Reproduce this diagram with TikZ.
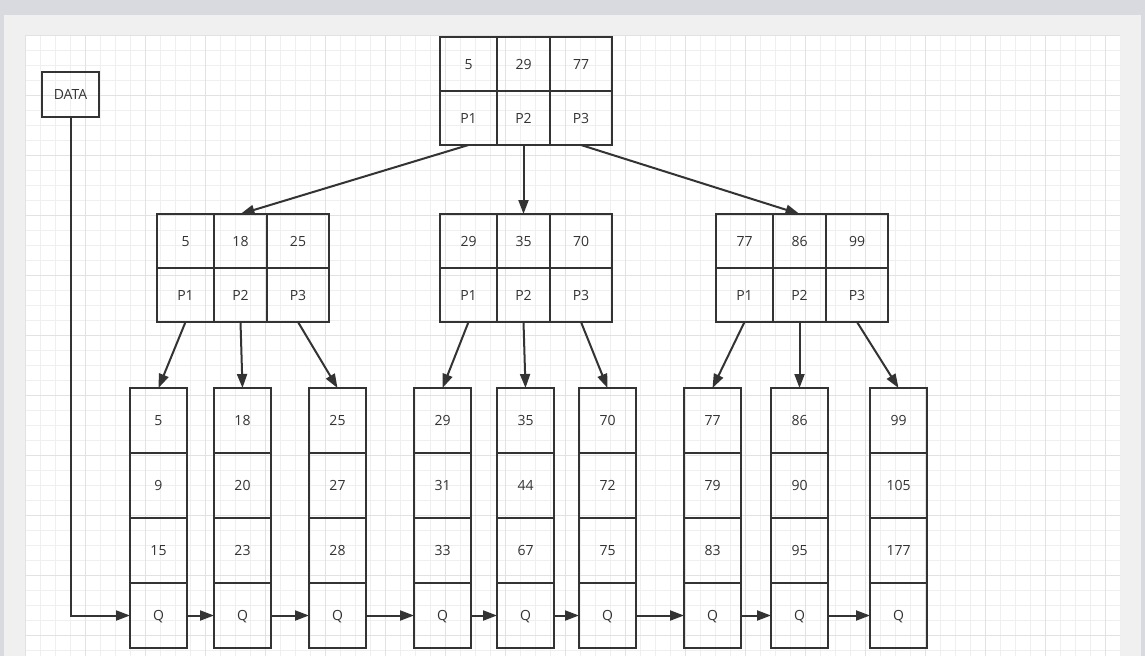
\documentclass[tikz,border=0pt]{standalone}
\usepackage{fontspec}
\setmainfont{Open Sans}
\usetikzlibrary{positioning,arrows.meta}
\definecolor{ink}{HTML}{333333}
\definecolor{outerbg}{HTML}{D9DADF}
\definecolor{panelbg}{HTML}{F0F0F0}
\definecolor{gridminor}{HTML}{EFEFEF}
\definecolor{gridmajor}{HTML}{E2E2E2}
\tikzset{
  cell/.style={draw=ink,line width=2pt,outer sep=0pt,inner sep=0pt,text=ink,text height=10pt,text depth=0pt,font=\fontsize{14}{16}\selectfont},
  idxa/.style={cell,minimum width=57pt,minimum height=54pt},
  idxb/.style={cell,minimum width=53pt,minimum height=54pt},
  idxc/.style={cell,minimum width=62pt,minimum height=54pt},
  leafcell/.style={cell,minimum width=57pt,minimum height=65pt},
  arr/.style={draw=ink,line width=2pt,-{Triangle[length=14pt,width=10pt]}},
}

\begin{document}
\begin{tikzpicture}[x=1pt,y=-1pt]
  % page, panel and grid canvas
  \useasboundingbox (0,0) rectangle (1145,656);
  \fill[outerbg] (0,0) rectangle (1145,656);
  \fill[panelbg] (4,15) rectangle (1141,656);
  \fill[white] (25,35) rectangle (1120,656);
  \begin{scope}[y=1pt,shift={(25pt,-35pt)}]
    \draw[gridminor,line width=1pt,step=15] (0,-621) grid (1095,0);
    \draw[gridmajor,line width=1pt,step=60] (0,-621) grid (1095,0);
  \end{scope}
  % root
  \node (root1) [idxa] at (468.5,64) {5};
  \node (root2) [idxb,right=0pt of root1] {29};
  \node (root3) [idxc,right=0pt of root2] {77};
  \node (rootp1) [idxa,below=0pt of root1] {P1};
  \node (rootp2) [idxb,below=0pt of root2] {P2};
  \node (rootp3) [idxc,below=0pt of root3] {P3};
  % left inner node
  \node (left1) [idxa] at (185.5,241) {5};
  \node (left2) [idxb,right=0pt of left1] {18};
  \node (left3) [idxc,right=0pt of left2] {25};
  \node (leftp1) [idxa,below=0pt of left1] {P1};
  \node (leftp2) [idxb,below=0pt of left2] {P2};
  \node (leftp3) [idxc,below=0pt of left3] {P3};
  % middle inner node
  \node (mid1) [idxa] at (468.5,241) {29};
  \node (mid2) [idxb,right=0pt of mid1] {35};
  \node (mid3) [idxc,right=0pt of mid2] {70};
  \node (midp1) [idxa,below=0pt of mid1] {P1};
  \node (midp2) [idxb,below=0pt of mid2] {P2};
  \node (midp3) [idxc,below=0pt of mid3] {P3};
  % right inner node
  \node (right1) [idxa] at (744.5,241) {77};
  \node (right2) [idxb,right=0pt of right1] {86};
  \node (right3) [idxc,right=0pt of right2] {99};
  \node (rightp1) [idxa,below=0pt of right1] {P1};
  \node (rightp2) [idxb,below=0pt of right2] {P2};
  \node (rightp3) [idxc,below=0pt of right3] {P3};
  % leaves
  \node (l1a) [leafcell] at (158.5,420.5) {5};
  \node (l1b) [leafcell,below=0pt of l1a] {9};
  \node (l1c) [leafcell,below=0pt of l1b] {15};
  \node (l1q) [leafcell,below=0pt of l1c] {Q};
  \node (l2a) [leafcell] at (242.5,420.5) {18};
  \node (l2b) [leafcell,below=0pt of l2a] {20};
  \node (l2c) [leafcell,below=0pt of l2b] {23};
  \node (l2q) [leafcell,below=0pt of l2c] {Q};
  \node (l3a) [leafcell] at (337.5,420.5) {25};
  \node (l3b) [leafcell,below=0pt of l3a] {27};
  \node (l3c) [leafcell,below=0pt of l3b] {28};
  \node (l3q) [leafcell,below=0pt of l3c] {Q};
  \node (l4a) [leafcell] at (442.5,420.5) {29};
  \node (l4b) [leafcell,below=0pt of l4a] {31};
  \node (l4c) [leafcell,below=0pt of l4b] {33};
  \node (l4q) [leafcell,below=0pt of l4c] {Q};
  \node (l5a) [leafcell] at (525.5,420.5) {35};
  \node (l5b) [leafcell,below=0pt of l5a] {44};
  \node (l5c) [leafcell,below=0pt of l5b] {67};
  \node (l5q) [leafcell,below=0pt of l5c] {Q};
  \node (l6a) [leafcell] at (607.5,420.5) {70};
  \node (l6b) [leafcell,below=0pt of l6a] {72};
  \node (l6c) [leafcell,below=0pt of l6b] {75};
  \node (l6q) [leafcell,below=0pt of l6c] {Q};
  \node (l7a) [leafcell] at (712.5,420.5) {77};
  \node (l7b) [leafcell,below=0pt of l7a] {79};
  \node (l7c) [leafcell,below=0pt of l7b] {83};
  \node (l7q) [leafcell,below=0pt of l7c] {Q};
  \node (l8a) [leafcell] at (799.5,420.5) {86};
  \node (l8b) [leafcell,below=0pt of l8a] {90};
  \node (l8c) [leafcell,below=0pt of l8b] {95};
  \node (l8q) [leafcell,below=0pt of l8c] {Q};
  \node (l9a) [leafcell] at (898.5,420.5) {99};
  \node (l9b) [leafcell,below=0pt of l9a] {105};
  \node (l9c) [leafcell,below=0pt of l9b] {177};
  \node (l9q) [leafcell,below=0pt of l9c] {Q};
  % data entry
  \node (data) [cell,minimum width=57pt,minimum height=45pt] at (70.5,94.5) {DATA};
  % arrows
  \draw[arr] (rootp1.south) -- (left2.north);
  \draw[arr] (rootp2.south) -- (mid2.north);
  \draw[arr] (rootp3.south) -- (right2.north);
  \draw[arr] (leftp1.south) -- (l1a.north);
  \draw[arr] (leftp2.south) -- (l2a.north);
  \draw[arr] (leftp3.south) -- (l3a.north);
  \draw[arr] (midp1.south) -- (l4a.north);
  \draw[arr] (midp2.south) -- (l5a.north);
  \draw[arr] (midp3.south) -- (l6a.north);
  \draw[arr] (rightp1.south) -- (l7a.north);
  \draw[arr] (rightp2.south) -- (l8a.north);
  \draw[arr] (rightp3.south) -- (l9a.north);
  \draw[arr] (data.south) |- (l1q.west);
  \draw[arr] (l1q.east) -- (l2q.west);
  \draw[arr] (l2q.east) -- (l3q.west);
  \draw[arr] (l3q.east) -- (l4q.west);
  \draw[arr] (l4q.east) -- (l5q.west);
  \draw[arr] (l5q.east) -- (l6q.west);
  \draw[arr] (l6q.east) -- (l7q.west);
  \draw[arr] (l7q.east) -- (l8q.west);
  \draw[arr] (l8q.east) -- (l9q.west);
\end{tikzpicture}
\end{document}
